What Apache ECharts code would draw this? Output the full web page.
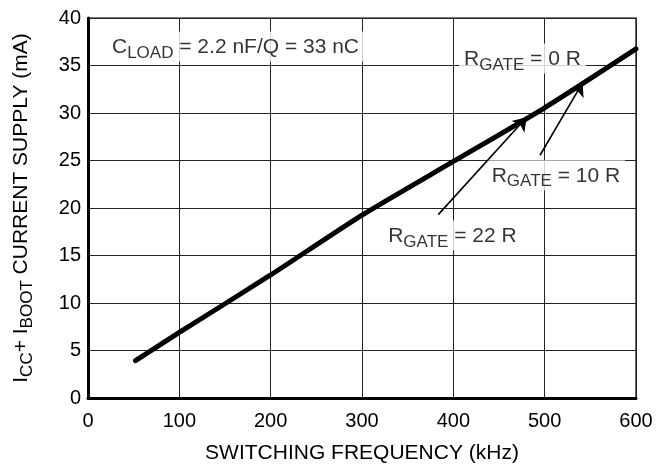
<!DOCTYPE html>
<html>
<head>
<meta charset="utf-8">
<script src="https://cdn.jsdelivr.net/npm/echarts@6/dist/echarts.min.js"></script>
<style>
html,body{margin:0;padding:0;background:#fff;}
#c{width:664px;height:469px;}
</style>
</head>
<body>
<div id="c"></div>
<script>
// Curve: switching frequency (kHz) vs ICC+IBOOT (mA)
var freq = [52, 100, 200, 300, 400, 500, 600];
var current = [3.93, 6.9, 12.95, 19.25, 24.9, 30.55, 36.75];

// Axis settings
var xTicks = [0, 100, 200, 300, 400, 500, 600];
var yTicks = [0, 5, 10, 15, 20, 25, 30, 35, 40];

// Annotation texts and their anchor points (data units)
var noteText = [
  '{m|C}{s|LOAD}{m| = 2.2 nF/Q = 33 nC}',
  '{m|R}{s|GATE}{m| = 0 R}',
  '{m|R}{s|GATE}{m| = 10 R}',
  '{m|R}{s|GATE}{m| = 22 R}'
];
var noteX = [161.5, 475.7, 512.3, 399];
var noteY = [37.0, 35.75, 23.45, 17.1];

// Arrows (from label toward the curve), data units
var arrowFrom = [[383.5, 19.3], [494.9, 25.55]];
var arrowTo = [[480.3, 29.55], [541.6, 33.2]];

var FONT = '"Liberation Sans", Arial, sans-serif';
var rich = {
  m: {fontSize: 21, fontFamily: FONT, color: '#000', lineHeight: 22, verticalAlign: 'top'},
  s: {fontSize: 17, fontFamily: FONT, color: '#000', lineHeight: 17, padding: [8, 0, 0, 0], verticalAlign: 'top'}
};

var chart = echarts.init(document.getElementById('c'));
var curveData = freq.map(function (f, i) { return [f, current[i]]; });
var noteData = noteText.map(function (t, i) { return [noteX[i], noteY[i], t]; });
var arrowData = arrowFrom.map(function (p, i) { return {coords: [p, arrowTo[i]]}; });

chart.setOption({
  animation: false,
  backgroundColor: '#fff',
  grid: {left: 88, right: 28, top: 18, bottom: 67, show: true, borderColor: '#000', borderWidth: 1.2, backgroundColor: 'transparent'},
  xAxis: {
    type: 'value', min: xTicks[0], max: xTicks[xTicks.length - 1], interval: xTicks[1] - xTicks[0],
    name: 'SWITCHING FREQUENCY (kHz)', nameLocation: 'middle', nameGap: 45,
    nameTextStyle: {fontSize: 21, fontFamily: FONT, color: '#000'},
    axisLine: {show: true, lineStyle: {color: '#000', width: 3}},
    axisTick: {show: false},
    axisLabel: {fontSize: 20, fontFamily: FONT, color: '#000', margin: 13},
    splitLine: {show: true, lineStyle: {color: '#222', width: 1}}
  },
  yAxis: {
    type: 'value', min: yTicks[0], max: yTicks[yTicks.length - 1], interval: yTicks[1] - yTicks[0],
    name: '{m|I}{s|CC}{m|+ I}{s|BOOT}{m| CURRENT SUPPLY (mA)}', nameLocation: 'middle', nameGap: 55, nameRotate: 90,
    nameTextStyle: {rich: rich},
    axisLine: {show: true, lineStyle: {color: '#000', width: 3}},
    axisTick: {show: false},
    axisLabel: {fontSize: 20, fontFamily: FONT, color: '#000', margin: 7},
    splitLine: {show: true, lineStyle: {color: '#222', width: 1}}
  },
  series: [
    {
      type: 'scatter', data: noteData, symbolSize: 0, z: 3, silent: true,
      label: {
        show: true, position: 'inside',
        formatter: function (p) { return p.data[2]; },
        backgroundColor: '#fff', padding: [5, 5, 3, 5],
        rich: rich
      }
    },
    {
      type: 'lines', coordinateSystem: 'cartesian2d', data: arrowData, z: 4, silent: true,
      symbol: ['none', 'arrow'], symbolSize: [0, 13],
      lineStyle: {color: '#000', width: 1.6, opacity: 1, curveness: 0}
    },
    {
      type: 'line', data: curveData, showSymbol: false, z: 5, silent: true, smooth: 0.2,
      lineStyle: {color: '#000', width: 5, cap: 'round'}
    }
  ]
});
</script>
</body>
</html>
